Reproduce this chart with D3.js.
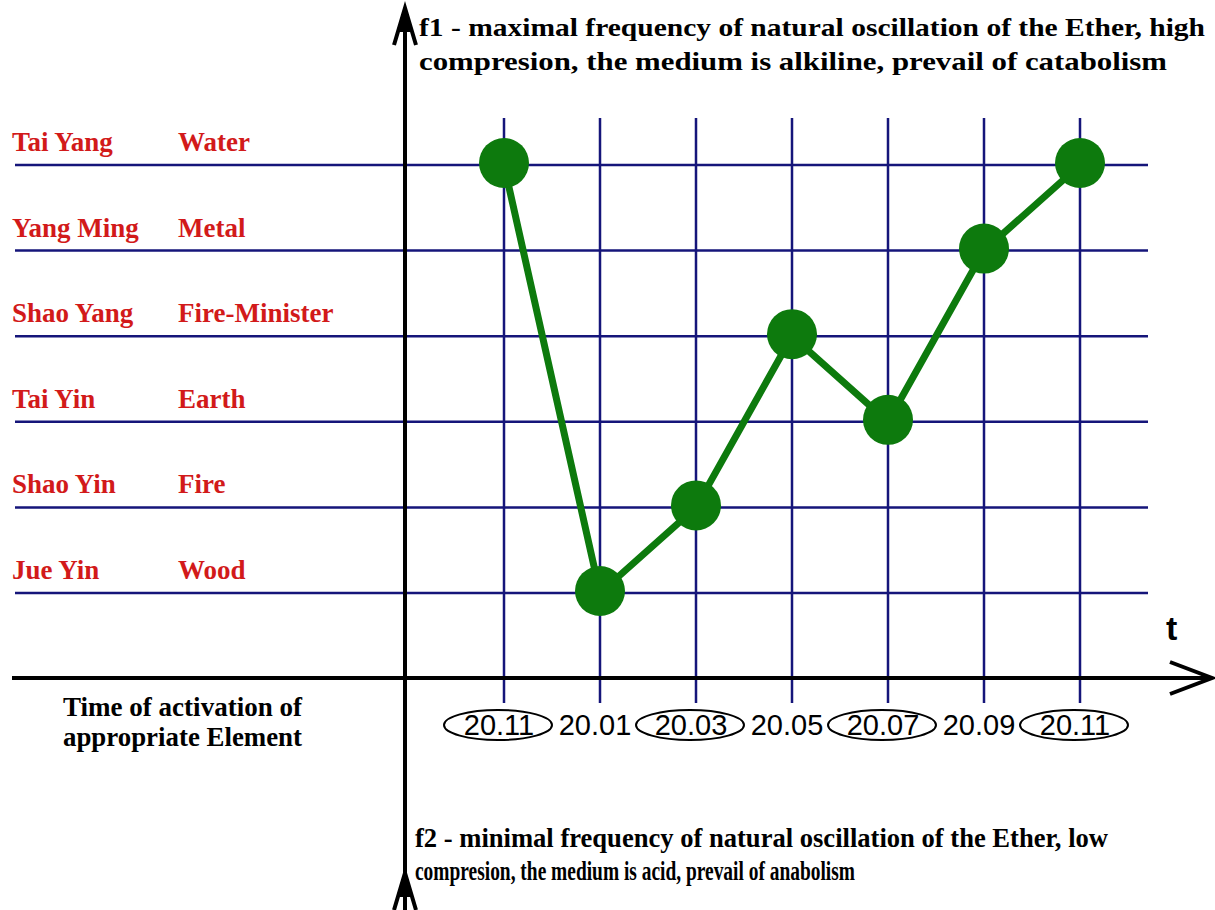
<!DOCTYPE html>
<html>
<head>
<meta charset="utf-8">
<script src="https://cdn.jsdelivr.net/npm/d3@7"></script>
<style>
  html, body { margin: 0; padding: 0; background: #fff; }
  svg { display: block; }
</style>
</head>
<body>
<svg id="chart"></svg>
<script>
// data
const dates = ["20.11", "20.01", "20.03", "20.05", "20.07", "20.09", "20.11"];
const circled = [true, false, true, false, true, false, true];
const phases = ["Jue Yin", "Shao Yin", "Tai Yin", "Shao Yang", "Yang Ming", "Tai Yang"];
const elements = ["Wood", "Fire", "Earth", "Fire-Minister", "Metal", "Water"];
const levelValues = [1, 2, 3, 4, 5, 6];
const activeLevel = [6, 1, 2, 4, 3, 5, 6];

const topNote = ["f1 - maximal frequency of natural oscillation of the Ether, high",
                 "compresion, the medium is alkiline, prevail of catabolism"];
const bottomNote = ["f2 - minimal frequency of natural oscillation of the Ether, low",
                    "compresion, the medium is acid, prevail of anabolism"];
const xTitle = ["Time of activation of", "appropriate Element"];

let svg = d3.select("#chart")
    .attr("width", 1215)
    .attr("height", 910),
  axisX = 405,
  axisY = 678,
  navy = "#15157a",
  red = "#d21a1a",
  green = "#0d7a0d";

let xScale = d3.scalePoint()
  .domain(d3.range(dates.length))
  .range([504, 1080]);

let yScale = d3.scaleLinear()
  .domain([1, 6])
  .range([593, 165]);

// horizontal level lines
svg.append("g")
  .selectAll("line")
  .data(levelValues)
  .join("line")
  .attr("x1", 15)
  .attr("x2", 1148)
  .attr("y1", d => yScale(d))
  .attr("y2", d => yScale(d))
  .attr("stroke", navy)
  .attr("stroke-width", 2.5);

// vertical lines for each date, running through the time axis as ticks
svg.append("g")
  .selectAll("line")
  .data(dates)
  .join("line")
  .attr("x1", (d, i) => xScale(i))
  .attr("x2", (d, i) => xScale(i))
  .attr("y1", 118)
  .attr("y2", 703)
  .attr("stroke", navy)
  .attr("stroke-width", 2.5);

// level labels
let labels = svg.append("g")
  .attr("font-family", "'Liberation Serif', 'DejaVu Serif', serif")
  .attr("font-weight", "bold")
  .attr("font-size", 27)
  .attr("fill", red);

labels.selectAll(".phase")
  .data(levelValues)
  .join("text")
  .attr("class", "phase")
  .attr("x", 12)
  .attr("y", d => yScale(d) - 14)
  .text((d, i) => phases[i]);

labels.selectAll(".element")
  .data(levelValues)
  .join("text")
  .attr("class", "element")
  .attr("x", 178)
  .attr("y", d => yScale(d) - 14)
  .text((d, i) => elements[i]);

// axes
svg.append("line")
  .attr("x1", 12).attr("x2", 1210)
  .attr("y1", axisY).attr("y2", axisY)
  .attr("stroke", "#000")
  .attr("stroke-width", 4);

svg.append("path")
  .attr("d", `M1170,662 L1212,${axisY} L1170,694`)
  .attr("fill", "none")
  .attr("stroke", "#000")
  .attr("stroke-width", 4)
  .attr("stroke-linejoin", "miter");

svg.append("line")
  .attr("x1", axisX).attr("x2", axisX)
  .attr("y1", 8).attr("y2", 910)
  .attr("stroke", "#000")
  .attr("stroke-width", 4);

// up arrows at both ends of the frequency axis
[8, 873].forEach(tip => {
  svg.append("path")
    .attr("d", `M${axisX - 11},${tip + 37} L${axisX},${tip} L${axisX + 11},${tip + 37}`)
    .attr("fill", "none")
    .attr("stroke", "#000")
    .attr("stroke-width", 4);
  svg.append("path")
    .attr("d", `M${axisX},${tip} L${axisX - 6},${tip + 24} L${axisX + 6},${tip + 24} Z`)
    .attr("fill", "#000");
});

svg.append("text")
  .attr("x", 1166)
  .attr("y", 640)
  .attr("font-family", "'Liberation Sans', Arial, sans-serif")
  .attr("font-weight", "bold")
  .attr("font-size", 34)
  .text("t");

// date labels
let ticks = svg.append("g")
  .attr("font-family", "'Liberation Sans', Arial, sans-serif")
  .attr("font-size", 29)
  .attr("fill", "#000");

ticks.selectAll("text")
  .data(dates)
  .join("text")
  .attr("x", (d, i) => xScale(i) - 5)
  .attr("y", 735)
  .attr("text-anchor", "middle")
  .text(d => d);

ticks.selectAll("ellipse")
  .data(dates.map((d, i) => i).filter(i => circled[i]))
  .join("ellipse")
  .attr("cx", i => xScale(i) - 6)
  .attr("cy", 725)
  .attr("rx", 54)
  .attr("ry", 15)
  .attr("fill", "none")
  .attr("stroke", "#000")
  .attr("stroke-width", 2);

// notes
let notes = svg.append("g")
  .attr("font-family", "'Liberation Serif', 'DejaVu Serif', serif")
  .attr("font-weight", "bold")
  .attr("fill", "#000");

notes.append("text").attr("x", 419).attr("y", 36).attr("font-size", 26)
  .attr("textLength", 786).attr("lengthAdjust", "spacingAndGlyphs").text(topNote[0]);
notes.append("text").attr("x", 419).attr("y", 70).attr("font-size", 26)
  .attr("textLength", 748).attr("lengthAdjust", "spacingAndGlyphs").text(topNote[1]);

notes.append("text").attr("x", 415).attr("y", 847).attr("font-size", 27)
  .attr("textLength", 693).attr("lengthAdjust", "spacingAndGlyphs").text(bottomNote[0]);
notes.append("text").attr("x", 415).attr("y", 880).attr("font-size", 27)
  .attr("textLength", 440).attr("lengthAdjust", "spacingAndGlyphs").text(bottomNote[1]);

notes.append("text").attr("x", 63).attr("y", 716).attr("font-size", 27)
  .attr("textLength", 239).attr("lengthAdjust", "spacingAndGlyphs").text(xTitle[0]);
notes.append("text").attr("x", 63).attr("y", 746).attr("font-size", 27)
  .attr("textLength", 239).attr("lengthAdjust", "spacingAndGlyphs").text(xTitle[1]);

// activation path
let line = d3.line()
  .x((d, i) => xScale(i))
  .y(d => yScale(d));

svg.append("path")
  .datum(activeLevel)
  .attr("fill", "none")
  .attr("stroke", green)
  .attr("stroke-width", 7)
  .attr("stroke-linejoin", "round")
  .attr("d", line);

svg.append("g")
  .selectAll("circle")
  .data(activeLevel)
  .join("circle")
  .attr("cx", (d, i) => xScale(i))
  .attr("cy", d => yScale(d) - 2)
  .attr("r", 25)
  .attr("fill", green);
</script>
</body>
</html>
